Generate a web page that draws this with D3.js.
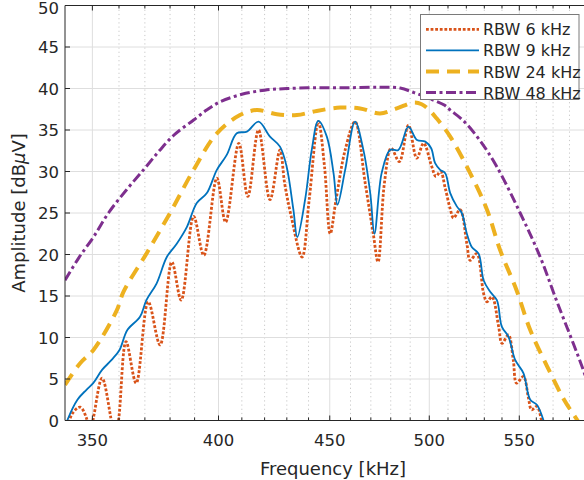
<!DOCTYPE html>
<html>
<head>
<meta charset="utf-8">
<script src="https://cdn.jsdelivr.net/npm/d3@7"></script>
<style>
  body { margin: 0; background: #fff; overflow: hidden; }
  #wrapper svg { display: block; font-family: "DejaVu Sans", sans-serif; }
</style>
</head>
<body>
<div id="wrapper"></div>
<script>
// RBW 6 kHz
const freq6 = [340, 342.4, 345.5, 347.8, 349, 350.5, 353.6, 356.8, 358.4, 360, 362.7, 366.6, 371.3, 376.0, 380.7, 384.5, 389.6, 393.8, 399.3, 403.0, 408.7, 412.6, 417.3, 422.4, 426.9, 429.0, 432.0, 437.0, 440.3, 444.6, 447.5, 450.2, 453.0, 457.4, 462.2, 467.2, 471.2, 473.6, 476.8, 480.2, 484.4, 489.1, 493.4, 497.0, 501.3, 503.5, 506, 508.5, 511.2, 513.0, 516.6, 520.3, 522.1, 525.8, 529.6, 531.5, 534.3, 538.1, 540.0, 543.7, 546.5, 548.4, 552.4, 555.2, 557.2, 560.3, 563.1, 565]
const amp6 = [-3, 0.7, 1.6, 0.3, -2, 0.5, 5.1, 0.5, -3, 0.5, 9.5, 4.5, 14.3, 9.1, 19.1, 14.5, 24.6, 19.9, 29.2, 23.9, 33.4, 27.0, 35.0, 26.6, 32.6, 28.6, 24.6, 19.7, 26.6, 36.0, 30.6, 22.5, 26.6, 32.6, 36.0, 28.6, 22.5, 19.1, 28.6, 32.8, 31.2, 35.6, 31.6, 33.4, 30.6, 29.4, 30.0, 28.0, 25.5, 24.4, 25.4, 21.3, 19.3, 20.1, 15.3, 14.3, 14.9, 11.3, 9.3, 10.3, 7.3, 4.5, 5.3, 2.9, 1.3, 1.7, 0, -2]

// RBW 9 kHz
const freq9 = [340, 340.8, 344.5, 347.8, 350.3, 353.6, 357.2, 360.2, 363.2, 368.1, 370.6, 374.6, 378.7, 382.7, 386.8, 390.9, 395.1, 399.3, 403.5, 407.8, 412.2, 417.3, 422.4, 426.9, 429.9, 433.0, 434.8, 438.4, 441.5, 444.6, 448.6, 451.8, 453.7, 457.4, 462.2, 466.3, 469.7, 471.8, 475.4, 479.7, 483.9, 489.1, 493.5, 497.9, 501, 503.1, 505.8, 508.5, 511.2, 514.8, 517.5, 520.3, 523.0, 526.8, 529.6, 533.3, 537.1, 539.9, 543.7, 547.6, 552.4, 556.4, 560.3, 564.3, 566]
const amp9 = [-0.8, 0, 2.5, 3.7, 4.5, 6.1, 7.3, 8.5, 10.9, 12.5, 14.5, 16.5, 19.7, 21.3, 23.3, 26.2, 27.4, 30.2, 32.0, 34.6, 34.8, 36.0, 34.2, 33.0, 30.6, 25.4, 22.1, 26.6, 32.6, 36.1, 34.2, 29.8, 26.0, 30.2, 36.0, 32.6, 27.4, 22.5, 29.8, 32.6, 32.6, 35.4, 33.8, 33.6, 32.8, 31.0, 30.2, 29.8, 27.4, 25.8, 25.0, 22.5, 20.9, 20.1, 16.9, 15.5, 14.5, 11.3, 10.1, 7.3, 5.7, 2.5, 1.9, 0, -1.5]

// RBW 24 kHz
const freq24 = [340, 345.5, 350.4, 359.2, 361.7, 370.6, 380.0, 389.6, 399.3, 409.2, 416.5, 425.5, 434.6, 443.8, 455, 464.7, 474.6, 483.1, 491.7, 496, 500, 503.9, 511.2, 522.1, 531.5, 539.0, 548.4, 556.4, 566.5, 576.7, 585, 592]
const amp24 = [4.3, 6.9, 8.5, 13.3, 15.5, 20.1, 25.0, 30.2, 34.6, 36.8, 37.4, 36.9, 36.8, 37.3, 37.7, 37.6, 37.0, 37.6, 38.3, 38.1, 37.4, 36.4, 34.2, 29.8, 25.4, 20.5, 15.7, 10.9, 6.5, 2.5, 0, -2]

// RBW 48 kHz
const freq48 = [340, 345, 350.4, 356, 362.9, 370, 376, 382, 389.6, 395, 400.7, 410, 420, 430, 445, 460, 475, 484.8, 492, 500, 508, 511.2, 518, 527, 537, 550.5, 562.3, 572, 582.3, 588.5, 595, 600]
const amp48 = [16.9, 19.6, 22.1, 25.0, 27.8, 30.4, 32.6, 34.5, 36.2, 37.4, 38.4, 39.3, 39.8, 40.0, 40.1, 40.1, 40.15, 40.05, 39.5, 38.8, 38.0, 37.4, 36.2, 33.9, 30.6, 25.0, 19.7, 14.5, 9.3, 6.1, 2.2, -1]

const xMajorTicks = [350, 400, 450, 500, 550, 600]
const xTickLabels = [350, 400, 450, 500, 550]
const xMinorTicks = [360, 370, 380, 390, 410, 420, 430, 440, 460, 470, 480, 490, 510, 520, 530, 540, 560, 570, 580, 590]
const yTicks = [0, 5, 10, 15, 20, 25, 30, 35, 40, 45, 50]
const legendLabels = ["RBW 6 kHz", "RBW 9 kHz", "RBW 24 kHz", "RBW 48 kHz"]

function drawChart() {
  const series = [
    { freq: freq6, amp: amp6, color: "#D95319", width: 2.8, dash: "2.8,1.8" },
    { freq: freq9, amp: amp9, color: "#0072BD", width: 1.8, dash: null },
    { freq: freq24, amp: amp24, color: "#EDB120", width: 4, dash: "13,8" },
    { freq: freq48, amp: amp48, color: "#7E2F8E", width: 3, dash: "10,3.5,3,3.5" },
  ]

  // the axes run a little past the right edge of the window (600 kHz is off-screen)
  const dimensions = {
    width: 584,
    height: 480,
    left: 65,
    right: 601.5,
    top: 5.5,
    bottom: 420.5,
  }

  const wrapper = d3.select("#wrapper")
    .append("svg")
      .attr("width", dimensions.width)
      .attr("height", dimensions.height)

  const xScale = d3.scaleLog()
    .domain([340, 600])
    .range([dimensions.left, dimensions.right])

  const yScale = d3.scaleLinear()
    .domain([0, 50])
    .range([dimensions.bottom, dimensions.top])

  wrapper.append("defs").append("clipPath")
      .attr("id", "plot-clip")
    .append("rect")
      .attr("x", dimensions.left)
      .attr("y", dimensions.top)
      .attr("width", dimensions.right - dimensions.left)
      .attr("height", dimensions.bottom - dimensions.top)

  // grid
  const grid = wrapper.append("g")
  grid.selectAll(".minor")
    .data(xMinorTicks)
    .enter().append("line")
      .attr("x1", d => xScale(d))
      .attr("x2", d => xScale(d))
      .attr("y1", dimensions.top)
      .attr("y2", dimensions.bottom)
      .attr("stroke", "#c8c8c8")
      .attr("stroke-width", 1)
      .attr("stroke-dasharray", "1.2,3")
  grid.selectAll(".major-x")
    .data(xMajorTicks)
    .enter().append("line")
      .attr("x1", d => xScale(d))
      .attr("x2", d => xScale(d))
      .attr("y1", dimensions.top)
      .attr("y2", dimensions.bottom)
      .attr("stroke", "#dedede")
  grid.selectAll(".major-y")
    .data(yTicks.slice(1, -1))
    .enter().append("line")
      .attr("x1", dimensions.left)
      .attr("x2", dimensions.right)
      .attr("y1", d => yScale(d))
      .attr("y2", d => yScale(d))
      .attr("stroke", "#dedede")

  // data lines
  const lineGenerator = d3.line()
    .x(d => xScale(d[0]))
    .y(d => yScale(d[1]))
    .curve(d3.curveCatmullRom.alpha(0.5))

  const linesGroup = wrapper.append("g").attr("clip-path", "url(#plot-clip)")
  series.forEach(s => {
    linesGroup.append("path")
      .datum(d3.zip(s.freq, s.amp))
      .attr("d", lineGenerator)
      .attr("fill", "none")
      .attr("stroke", s.color)
      .attr("stroke-width", s.width)
      .attr("stroke-dasharray", s.dash)
  })

  // axes box and ticks
  const axisColor = "#262626"
  const axes = wrapper.append("g")
  axes.append("line")
    .attr("x1", dimensions.left).attr("x2", dimensions.left)
    .attr("y1", dimensions.top).attr("y2", dimensions.bottom)
    .attr("stroke", axisColor).attr("stroke-width", 1)
  axes.append("line")
    .attr("x1", dimensions.left).attr("x2", dimensions.right)
    .attr("y1", dimensions.bottom).attr("y2", dimensions.bottom)
    .attr("stroke", axisColor)
  axes.append("line")
    .attr("x1", dimensions.left).attr("x2", dimensions.right)
    .attr("y1", dimensions.top).attr("y2", dimensions.top)
    .attr("stroke", axisColor)

  const tickData = xMajorTicks.map(d => ({ v: d, len: 5 }))
    .concat(xMinorTicks.map(d => ({ v: d, len: 3 })))
  axes.selectAll(".xtick-bottom")
    .data(tickData)
    .enter().append("line")
      .attr("x1", d => xScale(d.v)).attr("x2", d => xScale(d.v))
      .attr("y1", dimensions.bottom).attr("y2", d => dimensions.bottom - d.len)
      .attr("stroke", axisColor)
  axes.selectAll(".xtick-top")
    .data(tickData)
    .enter().append("line")
      .attr("x1", d => xScale(d.v)).attr("x2", d => xScale(d.v))
      .attr("y1", dimensions.top).attr("y2", d => dimensions.top + d.len)
      .attr("stroke", axisColor)
  axes.selectAll(".ytick")
    .data(yTicks)
    .enter().append("line")
      .attr("x1", dimensions.left).attr("x2", dimensions.left + 5)
      .attr("y1", d => yScale(d)).attr("y2", d => yScale(d))
      .attr("stroke", axisColor)

  axes.selectAll(".xlabel")
    .data(xTickLabels)
    .enter().append("text")
      .attr("x", d => xScale(d))
      .attr("y", 446)
      .attr("text-anchor", "middle")
      .attr("fill", axisColor)
      .style("font-size", "16.5px")
      .text(d => d)
  // the top label is nudged down so it stays inside the window
  axes.selectAll(".ylabel")
    .data(yTicks)
    .enter().append("text")
      .attr("x", 59)
      .attr("y", d => Math.max(yScale(d) + 6.2, 13.5))
      .attr("text-anchor", "end")
      .attr("fill", axisColor)
      .style("font-size", "16.5px")
      .text(d => d)

  wrapper.append("text")
    .attr("x", 333)
    .attr("y", 475)
    .attr("text-anchor", "middle")
    .attr("fill", axisColor)
    .style("font-size", "18px")
    .text("Frequency [kHz]")

  const yTitle = wrapper.append("text")
    .attr("transform", "translate(24.5, 213) rotate(-90)")
    .attr("text-anchor", "middle")
    .attr("fill", axisColor)
    .style("font-size", "18px")
  yTitle.append("tspan").text("Amplitude [dB")
  yTitle.append("tspan").style("font-style", "italic").text("\u03BC")
  yTitle.append("tspan").text("V]")

  // legend
  const legend = wrapper.append("g")
  legend.append("rect")
    .attr("x", 420.5).attr("y", 14.5)
    .attr("width", 158.5).attr("height", 85)
    .attr("fill", "#fff")
    .attr("stroke", "#7a7a7a")
  const rows = legend.selectAll(".row")
    .data(series)
    .enter().append("g")
      .attr("transform", (d, i) => `translate(0, ${29.3 + i * 21.1})`)
  rows.append("line")
    .attr("x1", 426).attr("x2", 479)
    .attr("stroke", d => d.color)
    .attr("stroke-width", d => d.width)
    .attr("stroke-dasharray", d => d.dash)
  rows.append("text")
    .attr("x", 483)
    .attr("y", 6)
    .attr("fill", axisColor)
    .style("font-size", "16px")
    .text((d, i) => legendLabels[i])
}
drawChart()
</script>
</body>
</html>
